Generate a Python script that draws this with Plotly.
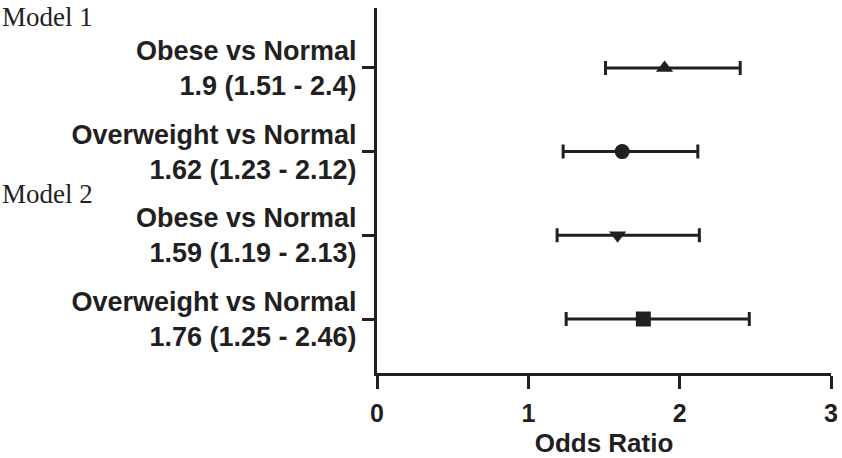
import plotly.graph_objects as go

labels = ["Obese vs Normal<br>1.9 (1.51 - 2.4)",
          "Overweight vs Normal<br>1.62 (1.23 - 2.12)",
          "Obese vs Normal<br>1.59 (1.19 - 2.13)",
          "Overweight vs Normal<br>1.76 (1.25 - 2.46)"]
ypos = [4, 3, 2, 1]
odds = [1.9, 1.62, 1.59, 1.76]
lower = [1.51, 1.23, 1.19, 1.25]
upper = [2.4, 2.12, 2.13, 2.46]
symbols = ["triangle-up", "circle", "triangle-down", "square"]
xticks = [0, 1, 2, 3]

ink = "#231f20"
fig = go.Figure()
for i in range(len(odds)):
    fig.add_trace(go.Scatter(
        x=[odds[i]], y=[ypos[i]], mode="markers",
        marker=dict(symbol=symbols[i], size=15, color=ink),
        error_x=dict(type="data", symmetric=False,
                     array=[upper[i] - odds[i]], arrayminus=[odds[i] - lower[i]],
                     color=ink, thickness=3, width=7),
        showlegend=False, cliponaxis=False))

fig.update_layout(
    width=842, height=458,
    margin=dict(l=377, r=11, t=8, b=85),
    paper_bgcolor="white", plot_bgcolor="white",
    font=dict(family="Liberation Sans", color=ink),
)
fig.update_xaxes(range=[0, 3], tickvals=xticks, ticktext=[str(v) for v in xticks],
                 automargin=False,
                 showgrid=False, zeroline=False, showline=True, linewidth=3, linecolor=ink,
                 ticks="outside", ticklen=13, tickwidth=3, tickcolor=ink, ticklabelstandoff=3,
                 tickfont=dict(size=25, family="Liberation Sans", weight="bold"),
                 title=dict(text="<b>Odds Ratio</b>", font=dict(size=26), standoff=12))
fig.update_yaxes(range=[0.355, 4.716], tickvals=ypos, automargin=False,
                 ticktext=["<b>" + t.replace("<br>", "</b><br><b>") + "</b>" for t in labels],
                 showgrid=False, zeroline=False, showline=True, linewidth=3, linecolor=ink,
                 ticks="outside", ticklen=12, tickwidth=3, tickcolor=ink,
                 tickfont=dict(size=27, family="Liberation Sans"))

fig.add_annotation(text="Model 1", xref="paper", yref="y", x=-377/454, y=1 + (319 - 17) / 83.7,
                   xanchor="left", yanchor="middle", showarrow=False,
                   font=dict(family="Liberation Serif", size=27, color=ink))
fig.add_annotation(text="Model 2", xref="paper", yref="y", x=-377/454, y=1 + (319 - 194) / 83.7,
                   xanchor="left", yanchor="middle", showarrow=False,
                   font=dict(family="Liberation Serif", size=27, color=ink))

fig.write_html("out.html", config={"displayModeBar": False},
               post_script="document.body.style.margin='0';")
